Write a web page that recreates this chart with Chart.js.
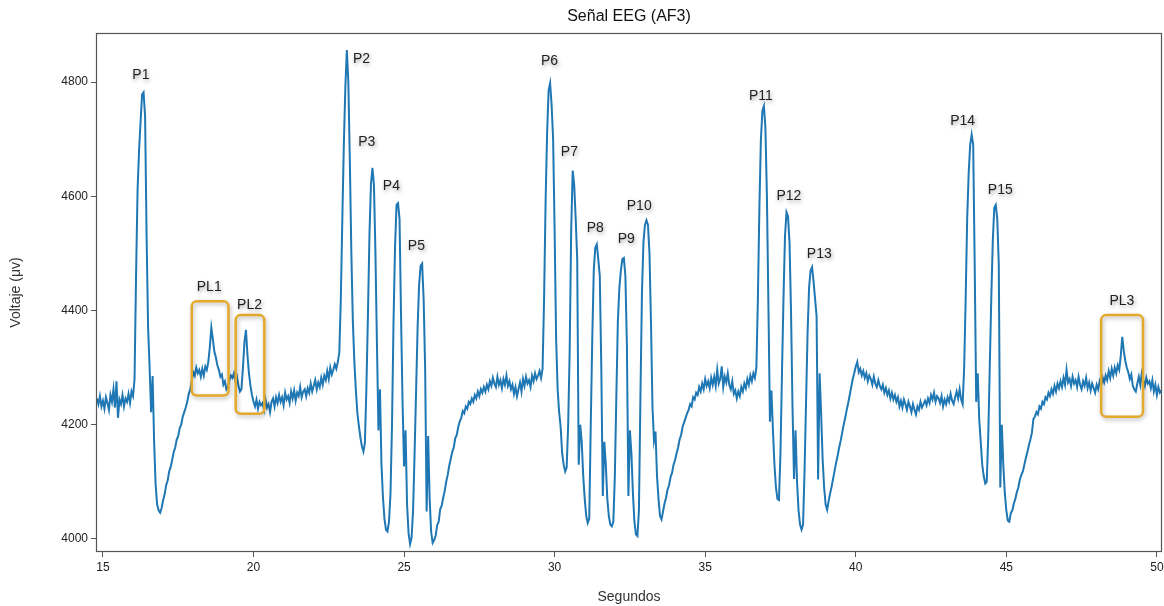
<!DOCTYPE html>
<html>
<head>
<meta charset="utf-8">
<script src="https://cdn.jsdelivr.net/npm/chart.js@4"></script>
<style>
  body { margin: 0; background: #fff; }
  canvas { display: block; }
</style>
</head>
<body>
<canvas id="eeg" width="1164" height="606"></canvas>
<script>
// sampled EEG trace, one value every 0.05 s starting at 14.80 s (10 values = 0.5 s per row)
const startSec = 14.8;
const stepSec = 0.05;
const volts = [
  4246, 4236, 4250, 4232, 4242, 4228, 4248, 4238, 4226, 4252,
  4240, 4262, 4230, 4276, 4212, 4244, 4236, 4252, 4232, 4246,
  4240, 4254, 4238, 4258, 4250, 4280, 4460, 4610, 4680, 4730,
  4778, 4782, 4740, 4530, 4370, 4300, 4222, 4285, 4170, 4095,
  4060, 4050, 4046, 4054, 4068, 4078, 4094, 4102, 4118, 4126,
  4138, 4152, 4160, 4174, 4180, 4194, 4200, 4214, 4222, 4230,
  4240, 4254, 4262, 4276, 4292, 4286, 4300, 4290, 4296, 4284,
  4298, 4286, 4302, 4296, 4310, 4336, 4370, 4350, 4328, 4318,
  4304, 4296, 4284, 4288, 4270, 4276, 4262, 4266, 4278, 4286,
  4282, 4290, 4276, 4284, 4268, 4258, 4262, 4300, 4345, 4366,
  4322, 4290, 4268, 4252, 4240, 4232, 4244, 4228, 4240, 4234,
  4238, 4226, 4244, 4230, 4236, 4222, 4240, 4246, 4232, 4248,
  4238, 4252, 4240, 4248, 4234, 4256, 4244, 4250, 4238, 4258,
  4246, 4260, 4242, 4256, 4250, 4266, 4248, 4258, 4262, 4250,
  4264, 4256, 4272, 4258, 4268, 4278, 4262, 4274, 4266, 4282,
  4270, 4286, 4278, 4294, 4280, 4300, 4288, 4296, 4306, 4298,
  4310, 4326, 4420, 4560, 4690, 4790, 4856, 4800, 4660, 4500,
  4380, 4310, 4260, 4220, 4198, 4178, 4162, 4153, 4168, 4265,
  4390, 4530, 4620, 4650, 4620, 4500, 4340, 4190, 4262, 4130,
  4072, 4035, 4016, 4013, 4030, 4080, 4200, 4380, 4510, 4585,
  4588, 4560, 4390, 4240, 4127, 4190, 4060, 4010, 3991, 4002,
  4050, 4150, 4260, 4370, 4445, 4478, 4482, 4420, 4300, 4048,
  4180, 4070, 4012, 3993, 3998, 4006, 4024, 4030, 4052, 4058,
  4072, 4084, 4100, 4112, 4128, 4140, 4152, 4160, 4176, 4182,
  4196, 4206, 4212, 4224, 4220, 4232, 4228, 4240, 4236, 4246,
  4240, 4252, 4246, 4258, 4250, 4262, 4256, 4266, 4258, 4270,
  4262, 4276, 4268, 4282, 4272, 4266, 4284, 4270, 4278, 4264,
  4280, 4270, 4286, 4268, 4276, 4262, 4270, 4254, 4266, 4250,
  4262, 4274, 4258, 4280, 4268, 4284, 4272, 4278, 4266, 4286,
  4276, 4290, 4280, 4286, 4294, 4282, 4298, 4420, 4590, 4710,
  4785, 4798, 4760, 4700, 4540, 4350, 4262, 4222, 4196, 4150,
  4130, 4118, 4125, 4200, 4330, 4540, 4645, 4620, 4560, 4490,
  4130, 4200, 4170, 4110, 4070, 4040, 4028, 4035, 4200, 4350,
  4470, 4510, 4516, 4490, 4460, 4300, 4075, 4170, 4130, 4070,
  4040, 4025, 4022, 4030, 4110, 4250, 4380, 4440, 4470, 4490,
  4492, 4460, 4340, 4075, 4190, 4150, 4080, 4030, 4008, 4005,
  4050, 4250, 4430, 4520, 4550, 4558, 4550, 4500, 4380, 4230,
  4172, 4188, 4110, 4070, 4040, 4034, 4048, 4062, 4072, 4086,
  4094, 4108, 4116, 4130, 4138, 4150, 4160, 4174, 4182, 4196,
  4204, 4212, 4220, 4226, 4236, 4232, 4248, 4244, 4256, 4252,
  4266, 4258, 4272, 4262, 4280, 4268, 4276, 4264, 4282, 4270,
  4284, 4268, 4296, 4272, 4280, 4302, 4266, 4284, 4274, 4290,
  4270, 4262, 4276, 4254, 4260, 4246, 4258, 4250, 4266, 4258,
  4272, 4264, 4280, 4270, 4286, 4276, 4290, 4282, 4300, 4420,
  4580, 4700, 4750, 4758, 4720, 4600, 4410, 4205, 4260, 4190,
  4130, 4090, 4070, 4068, 4150, 4290, 4420, 4530, 4572, 4565,
  4520, 4400, 4230, 4105, 4190, 4100, 4050, 4025, 4016, 4025,
  4120, 4240, 4360, 4440, 4470, 4476, 4450, 4420, 4390, 4104,
  4290, 4220, 4140, 4090, 4060, 4051, 4066, 4080, 4092, 4106,
  4120, 4134, 4146, 4160, 4172, 4186, 4200, 4212, 4226, 4238,
  4252, 4266, 4280, 4290, 4302, 4310, 4292, 4298, 4286, 4294,
  4282, 4290, 4276, 4286, 4280, 4270, 4284, 4272, 4266, 4278,
  4268, 4262, 4270, 4256, 4264, 4252, 4260, 4246, 4256, 4244,
  4252, 4240, 4248, 4232, 4242, 4230, 4244, 4236, 4226, 4240,
  4232, 4222, 4236, 4226, 4218, 4232, 4226, 4240, 4230, 4236,
  4242, 4234, 4246, 4238, 4252, 4244, 4256, 4240, 4250, 4246,
  4238, 4250, 4232, 4244, 4236, 4248, 4240, 4254, 4242, 4236,
  4248, 4258, 4246, 4262, 4244, 4236, 4300, 4420, 4560, 4640,
  4690, 4708, 4690, 4480, 4240, 4290, 4210, 4170, 4130, 4110,
  4097, 4100, 4180, 4300, 4420, 4520, 4580, 4585, 4560, 4480,
  4090, 4200, 4130, 4080, 4050, 4032, 4030, 4045, 4050, 4062,
  4070, 4082, 4090, 4104, 4112, 4118, 4130, 4142, 4152, 4164,
  4174, 4186, 4210, 4214, 4222, 4218, 4232, 4228, 4240, 4236,
  4248, 4244, 4256, 4250, 4262, 4254, 4268, 4258, 4272, 4264,
  4276, 4266, 4282, 4270, 4296, 4274, 4280, 4268, 4284, 4272,
  4278, 4266, 4284, 4270, 4262, 4276, 4268, 4282, 4264, 4274,
  4260, 4272, 4264, 4256, 4270, 4262, 4276, 4268, 4282, 4274,
  4286, 4278, 4294, 4282, 4298, 4286, 4300, 4290, 4304, 4296,
  4320, 4354, 4330, 4312, 4300, 4292, 4280, 4288, 4268, 4262,
  4258, 4272, 4284, 4270, 4290, 4278, 4268, 4282, 4272, 4276,
  4264, 4278, 4258, 4270, 4252, 4266, 4256, 4260
];

const xTicks = [15, 20, 25, 30, 35, 40, 45, 50];
const yTicks = [4000, 4200, 4400, 4600, 4800];

// peak labels (text centre, in seconds / µV)
const peakNames = ['P1','P2','P3','P4','P5','P6','P7','P8','P9','P10','P11','P12','P13','P14','P15','PL1','PL2','PL3'];
const peakSec   = [16.26, 23.59, 23.76, 24.58, 25.41, 29.83, 30.49, 31.35, 32.38, 32.81, 36.85, 37.78, 38.79, 43.55, 44.80, 18.53, 19.87, 48.84];
const peakVolt  = [4812, 4841, 4694, 4617, 4513, 4837, 4677, 4544, 4525, 4583, 4776, 4601, 4499, 4731, 4611, 4441, 4410, 4416];

// highlighted low peaks: [from s, to s, low µV, high µV]
const boxes = [
  [17.95, 19.17, 4251, 4416],
  [19.41, 20.36, 4219, 4392],
  [48.15, 49.54, 4214, 4392]
];

const secs = volts.map((v, i) => +(startSec + i * stepSec).toFixed(2));
const points = secs.map((s, i) => ({ x: s, y: volts[i] }));

const FONT = "'Liberation Sans', Arial, sans-serif";

const extras = {
  id: 'extras',
  afterDatasetsDraw(chart) {
    const { ctx, chartArea: a, scales: { x, y } } = chart;
    ctx.save();
    // frame like matplotlib spines
    ctx.strokeStyle = '#555';
    ctx.lineWidth = 1.2;
    ctx.strokeRect(a.left + 0.5, a.top + 0.5, a.right - a.left - 1, a.bottom - a.top - 1);

    // highlight boxes
    ctx.shadowColor = 'rgba(0,0,0,0.3)';
    ctx.shadowBlur = 4;
    ctx.shadowOffsetX = 1;
    ctx.shadowOffsetY = 2;
    ctx.strokeStyle = '#e3a92b';
    ctx.lineWidth = 2.5;
    boxes.forEach(b => {
      const x0 = x.getPixelForValue(b[0]), x1 = x.getPixelForValue(b[1]);
      const y0 = y.getPixelForValue(b[3]), y1 = y.getPixelForValue(b[2]);
      ctx.beginPath();
      ctx.roundRect(x0, y0, x1 - x0, y1 - y0, 5);
      ctx.stroke();
    });

    // peak labels
    ctx.shadowColor = 'rgba(0,0,0,0.4)';
    ctx.shadowBlur = 4;
    ctx.shadowOffsetX = 1;
    ctx.shadowOffsetY = 2;
    ctx.fillStyle = '#222';
    ctx.font = '14px ' + FONT;
    ctx.textAlign = 'center';
    ctx.textBaseline = 'middle';
    peakNames.forEach((n, i) => {
      ctx.fillText(n, x.getPixelForValue(peakSec[i]), y.getPixelForValue(peakVolt[i]));
    });

    // title
    ctx.shadowColor = 'transparent';
    ctx.font = '16px ' + FONT;
    ctx.fillStyle = '#111';
    ctx.fillText('Señal EEG (AF3)', (a.left + a.right) / 2, 17);
    ctx.restore();
  }
};

new Chart(document.getElementById('eeg'), {
  type: 'line',
  data: {
    datasets: [{
      label: 'AF3',
      data: points,
      borderColor: '#1f77b4',
      borderWidth: 2,
      pointRadius: 0,
      tension: 0,
      fill: false
    }]
  },
  options: {
    responsive: false,
    animation: false,
    devicePixelRatio: 1,
    layout: { padding: { top: 33, right: 2, left: 0, bottom: 0 } },
    plugins: {
      legend: { display: false },
      tooltip: { enabled: false },
      title: { display: false }
    },
    scales: {
      x: {
        type: 'linear',
        min: 14.77,
        max: 50.17,
        afterFit: s => { s.height = 54; s.paddingLeft = 0; s.paddingRight = 0; },
        afterBuildTicks: s => { s.ticks = xTicks.map(v => ({ value: v })); },
        border: { display: false },
        grid: { drawOnChartArea: false, drawTicks: true, tickLength: 5, color: '#555' },
        ticks: { color: '#222', font: { size: 12, family: FONT }, padding: 3, maxRotation: 0, callback: v => String(v) },
        title: { display: true, text: 'Segundos', color: '#333', font: { size: 14, family: FONT }, padding: { top: 0, bottom: 0 } }
      },
      y: {
        min: 3977,
        max: 4886,
        afterFit: s => { s.width = 96; s.paddingTop = 0; s.paddingBottom = 0; },
        afterBuildTicks: s => { s.ticks = yTicks.map(v => ({ value: v })); },
        border: { display: false },
        grid: { drawOnChartArea: false, drawTicks: true, tickLength: 5, color: '#555' },
        ticks: { color: '#222', font: { size: 12, family: FONT }, padding: 3, callback: v => String(v) },
        title: { display: true, text: 'Voltaje (μv)', color: '#333', font: { size: 14, family: FONT }, padding: { top: 8, bottom: 0 } }
      }
    }
  },
  plugins: [extras]
});
</script>
</body>
</html>
